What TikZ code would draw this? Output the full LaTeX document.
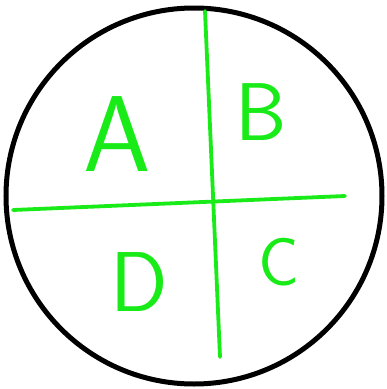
\documentclass[tikz,border=0pt]{standalone}
\definecolor{pen}{RGB}{25,235,25}
\tikzset{
  rim/.style={draw=black,line width=5pt},
  divider/.style={draw=pen,line width=3.8pt,line cap=round},
  letter/.style={text=pen,inner sep=0pt,font=\sffamily}
}
\begin{document}
\begin{tikzpicture}[x=1pt,y=-1pt]
\useasboundingbox (0,0) rectangle (387,389);
\coordinate (o) at (194,196);
\draw[rim] (o) circle[radius=188];
\coordinate (vt) at (205,11);
\coordinate (vb) at (220,357);
\coordinate (hl) at (13,210);
\coordinate (hr) at (345,196);
\draw[divider] (vt) -- (vb);
\draw[divider] (hl) -- (hr);
\node[letter,font=\sffamily\fontsize{108}{108}\selectfont] (A) at (117,134) {A};
\node[letter,font=\sffamily\fontsize{82}{82}\selectfont] (B) at (261,112) {B};
\node[letter,font=\sffamily\fontsize{68}{68}\selectfont] (C) at (279,262) {C};
\node[letter,font=\sffamily\fontsize{85}{85}\selectfont] (D) at (139,282) {D};
\end{tikzpicture}
\end{document}
